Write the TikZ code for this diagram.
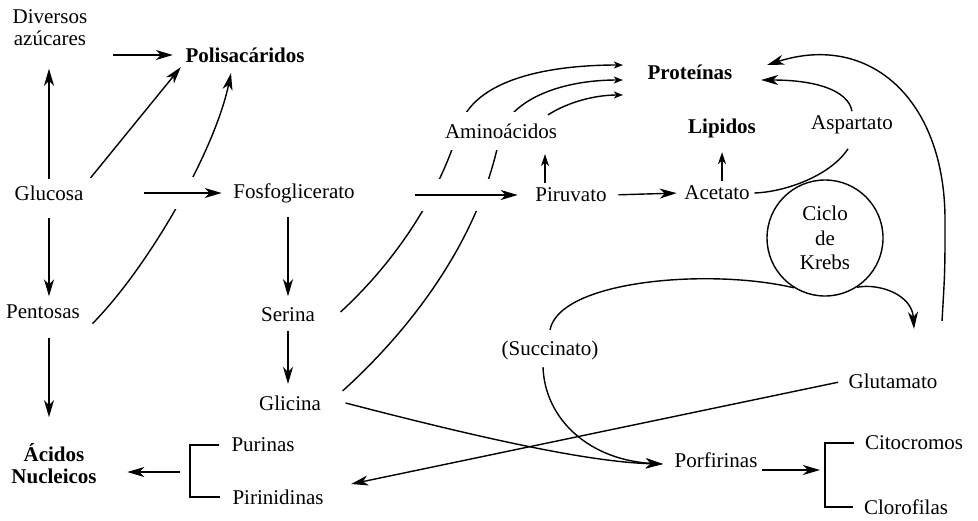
\documentclass[tikz,border=0pt]{standalone}
\usepackage{fontspec}
\setmainfont{Liberation Serif}
\usetikzlibrary{arrows.meta,backgrounds}

\begin{document}
\begin{tikzpicture}[x=0.5pt,y=-0.5pt,line width=0.7pt,
    every node/.style={font=\fontsize{10.5}{11}\selectfont,inner sep=2pt},
    boldlbl/.style={font=\fontsize{10.5}{11}\selectfont\bfseries},
    arr/.style={-{Stealth[length=8.5pt,width=5pt,inset=2.5pt]}},
    arrm/.style={-{Stealth[length=6pt,width=4pt,inset=1.8pt]}},
    arrs/.style={-{Stealth[length=4.5pt,width=3.5pt,inset=1.2pt]}},
    whitegap/.style={preaction={draw=white,line width=16pt,-}}]
    \useasboundingbox (0,0) rectangle (978,520);
    % sugars
    \node[align=center] (div) at (50,28) {Diversos\\azúcares};
    \node[boldlbl] (pol) at (245,55) {Polisacáridos};
    \node (glu) at (49,193) {Glucosa};
    \node (pent) at (43,312) {Pentosas};
    \node[boldlbl,align=center] (acid) at (54,464) {Ácidos\\Nucleicos};
    \node (pur) at (263,445) {Purinas};
    \node (pirim) at (278,497) {Pirinidinas};
    % glycolysis and amino acids
    \node (fosfo) at (294,193) {Fosfoglicerato};
    \node (ser) at (288,315) {Serina};
    \node (gli) at (290,403) {Glicina};
    \node[fill=white,inner ysep=6pt] (amino) at (501,131) {Aminoácidos};
    \node (piru) at (571,195) {Piruvato};
    \node (acet) at (717,193) {Acetato};
    \node[boldlbl] (lip) at (722,128) {Lipidos};
    \node[boldlbl] (prot) at (690,72) {Proteínas};
    \node (asp) at (852,125) {Aspartato};
    % Krebs cycle
    \node[draw,circle,minimum size=58pt,align=center,font=\fontsize{10.5}{12.2}\selectfont] (krebs) at (825,238) {Ciclo\\de\\Krebs};
    \node (succ) at (550,350) {(Succinato)};
    \node (gluta) at (893,381) {Glutamato};
    \node (porf) at (716,460) {Porfirinas};
    \node (cito) at (914,443) {Citocromos};
    \node (cloro) at (906,507) {Clorofilas};
    \coordinate (lbr) at (190,472);
    \coordinate (rbr) at (825,470);
    \coordinate (porfin) at ([xshift=-3.5pt,yshift=-2pt]porf.west);
    % curves passing behind labels and arrows
    \begin{scope}[on background layer={line width=0.7pt}]
      \draw[arr] ([xshift=4pt]pent.south east) .. controls (150,265) and (215,150) .. ([xshift=-7pt,yshift=-3pt]pol.south);
      \draw[arrs] ([xshift=10.5pt,yshift=1.5pt]ser.east) .. controls (395,262) and (440,195) .. (460,125)
        .. controls (478,75) and (560,65) .. ([xshift=-10pt,yshift=3.5pt]prot.west);
      \draw[arrs] ([xshift=8.5pt]gli.north east) .. controls (410,330) and (480,240) .. (500,135)
        .. controls (510,100) and (560,80) .. ([xshift=-10pt,yshift=-4pt]prot.west);
    \end{scope}
    % sugar arrows
    \draw[arr,shorten <=10.5pt,shorten >=4pt] (div.east |- pol.west) -- (pol.west);
    \draw[arr,shorten <=1pt,shorten >=9pt] (glu.north) -- (glu.north |- div.south);
    \draw[arr,shorten <=2pt] (glu.north east) -- (pol.south west);
    \draw[arr,shorten <=6.5pt,shorten >=2pt] (glu.south) -- (glu.south |- pent.north);
    \draw[arr,shorten <=7pt,shorten >=11pt] (glu.south |- pent.south) -- (glu.south |- acid.north);
    \draw[arr,whitegap,shorten <=28pt,shorten >=3.5pt] (glu.east) -- (fosfo.west);
    % brackets
    \draw ([xshift=-4pt]pur.west) -| (lbr) |- ([xshift=-4pt]pirim.west);
    \draw[arr,shorten <=5pt] (lbr) -- ([xshift=13pt]acid.east |- lbr);
    \draw ([xshift=-3pt]cito.west) -| (rbr) |- ([xshift=-3pt]cloro.west);
    \draw[arr,shorten >=2.5pt] (porf.east |- rbr) -- (rbr);
    % glycolysis arrows
    \draw[arr,shorten <=5pt,shorten >=3.5pt] (ser.north |- fosfo.south) -- (ser.north);
    \draw[arr,shorten <=2pt,shorten >=3.5pt] (ser.south) -- (gli.north -| ser.south);
    \draw[arr,whitegap,shorten <=28pt,shorten >=6.5pt] (fosfo.east |- piru.west) -- (piru.west);
    \draw[arrm,shorten >=1.5pt] ([xshift=-13pt]piru.north) -- ([xshift=-13pt]piru.north |- amino.south);
    \draw[arrs] ([xshift=23.5pt,yshift=-2pt]amino.north) .. controls (568,102) and (595,95) .. ([xshift=-10pt,yshift=-11.5pt]prot.west);
    \draw[arr,shorten <=3.5pt,shorten >=1.5pt] (piru.east) -- (acet.west);
    \draw[arrm,shorten >=5pt] (lip.south |- acet.north) -- (lip.south);
    \draw (acet.east) .. controls (785,192) and (830,176) .. ([xshift=-2pt,yshift=-5pt]asp.south);
    \draw[arr] (asp.north) .. controls (848,90) and (815,80) .. ([xshift=12pt,yshift=-4pt]prot.east);
    \draw[arr] ([yshift=24pt]gluta.north east) .. controls (945,270) .. (945,220)
      .. controls (945,100) and (870,32) .. ([xshift=15pt,yshift=3.5pt]prot.east);
    % Krebs cycle arrows
    \draw[arr] (krebs.-57) .. controls (880,283) and (912,295) .. ([xshift=10.5pt,yshift=20pt]gluta.north);
    \draw ([yshift=3pt]succ.north) .. controls (560,280) and (710,268) .. (krebs.-122);
    \draw[arr] ([xshift=-3.5pt,yshift=-1.5pt]succ.south) .. controls (545,420) and (590,460) .. (porfin);
    \draw[arr] ([xshift=10pt]gli.east) .. controls (450,430) and (580,462) .. (porfin);
    \draw[arr,shorten <=3pt] (gluta.west) -- ([xshift=11.5pt,yshift=6.5pt]pirim.east);
\end{tikzpicture}
\end{document}
